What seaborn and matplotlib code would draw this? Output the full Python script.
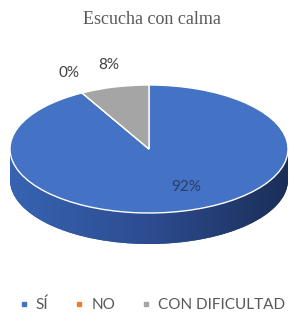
import numpy as np
import matplotlib
matplotlib.use("Agg")
import matplotlib.pyplot as plt
import seaborn as sns
from matplotlib.path import Path
from matplotlib.transforms import Affine2D
from matplotlib.colors import LinearSegmentedColormap

sns.set_theme(style="white")
plt.rcParams['font.family'] = ['Lato', 'DejaVu Sans']

categories = ["SÍ", "NO", "CON DIFICULTAD"]
values = [92, 0, 8]
title = "Escucha con calma"

top_colors = ["#4472C4", "#ED7D31", "#A5A5A5"]
side_colors = ["#2D4E92", "#B35A1F", "#7A7A7A"]

W, H = 304, 321
fig = plt.figure(figsize=(W / 100, H / 100), dpi=100)
fig.patch.set_facecolor("white")

left, right = 10, 288
top_px, bot_px = 80, 252
ax = fig.add_axes([left / W, 1 - bot_px / H, (right - left) / W, (bot_px - top_px) / H])
ry = 64.0
cy = 149.0
ytop = (cy - top_px) / ry
ybot = ytop - (bot_px - top_px) / ry

depth = 31.0 / ry
nstep = 40
for i in range(nstep, 0, -1):
    off = depth * i / nstep
    ax.pie(values, colors=side_colors, startangle=90, counterclock=False,
           center=(0, -off), radius=1.0, frame=True,
           wedgeprops=dict(linewidth=0))

# horizontal shading of the pie's side wall
cmap = LinearSegmentedColormap.from_list("side", ["#3763B2", "#2D4C90", "#1B2E58"])
grad = np.linspace(0, 1, 256)[None, :]
im = ax.imshow(grad, cmap=cmap, extent=[-1, 1, -depth - 1.05, 0.0],
               aspect="auto", zorder=1.5, interpolation="bilinear")
circ = Path.unit_circle()
rect = Path.unit_rectangle()
clip = Path.make_compound_path(
    circ,
    circ.transformed(Affine2D().translate(0, -depth)),
    rect.transformed(Affine2D().scale(2, depth).translate(-1, -depth)),
)
im.set_clip_path(clip, ax.transData)

wedges, _ = ax.pie(values, colors=top_colors, startangle=90, counterclock=False,
                   center=(0, 0), radius=1.0, frame=True,
                   wedgeprops=dict(linewidth=1.0, edgecolor="white"))
for w in wedges:
    w.set_zorder(2)
ax.set_aspect("auto")
ax.set_xlim(-1, 1)
ax.set_ylim(ybot, ytop)
ax.set_axis_off()

total = sum(values)
for w, v in zip(wedges, values):
    mid = np.deg2rad((w.theta1 + w.theta2) / 2)
    pct = f"{round(100 * v / total)}%"
    if v > 50:
        x, y = 0.27, -0.59
        col = "#2A3F68"
    else:
        r = 1.3
        x, y = r * np.cos(mid) * 0.95 + 0.02, r * np.sin(mid) + 0.05
        col = "#404040"
    ax.text(x, y, pct, ha="center", va="center", fontsize=11, color=col, zorder=3)

fig.text(0.5, 1 - 19 / H, title, ha="center", va="center", fontsize=13,
         color="#595959", family=["Liberation Serif", "DejaVu Serif"])

handles = [plt.Line2D([], [], marker="s", linestyle="", markersize=3.5,
                      markerfacecolor=c, markeredgecolor=c) for c in top_colors]
fig.legend(handles, categories, loc="center", bbox_to_anchor=(0.5, 1 - 305 / H),
           ncol=3, frameon=False, fontsize=11, labelcolor="#595959",
           handlelength=0.6, handletextpad=0.5, columnspacing=1.7)

fig.savefig("out.png", dpi=100, facecolor="white")
